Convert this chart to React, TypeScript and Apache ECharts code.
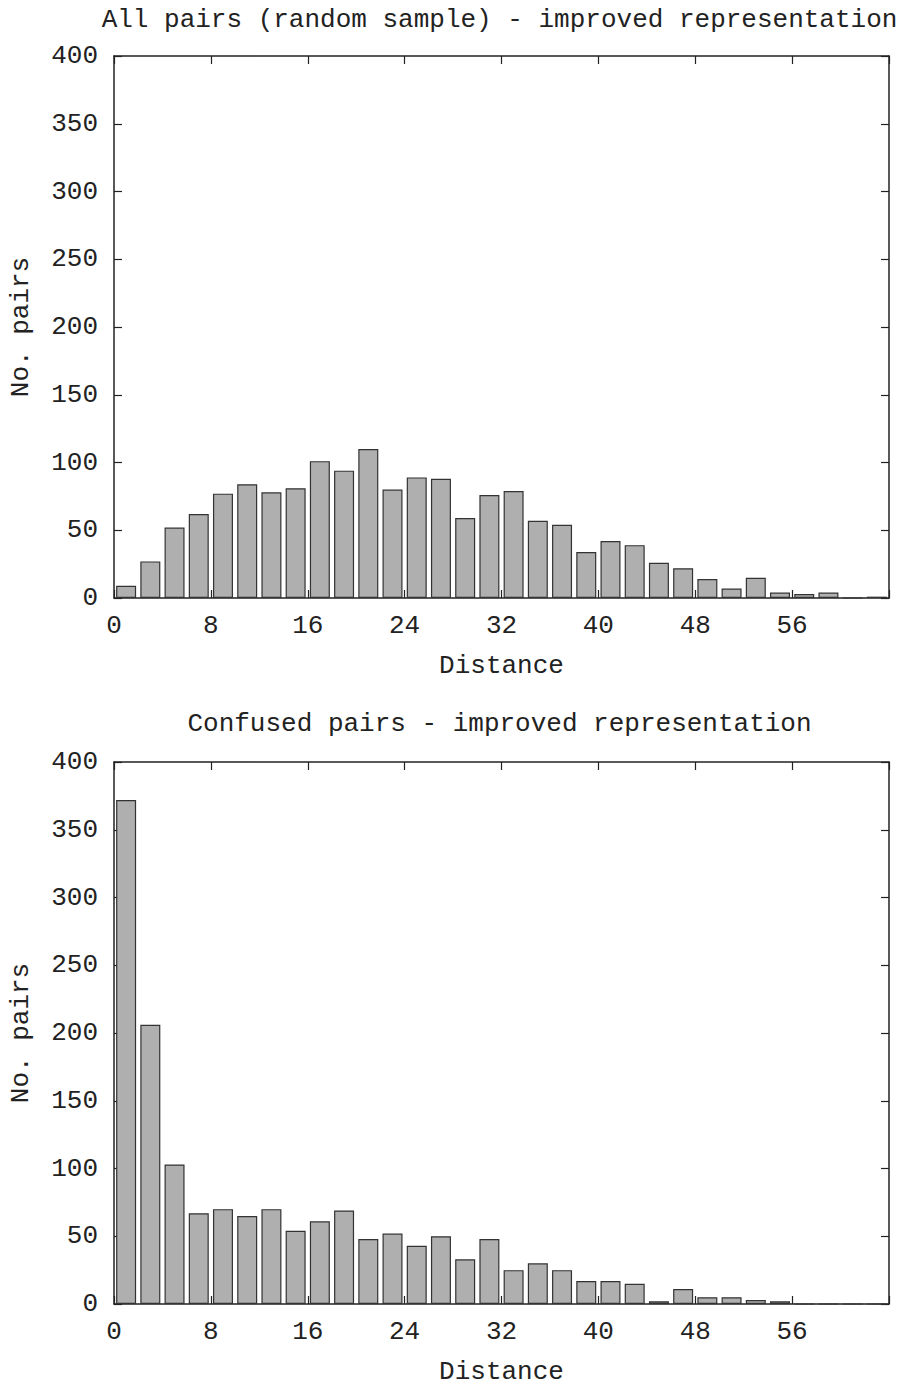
import React, { useEffect, useRef } from "react";
import * as echarts from "echarts";

const distances = [1, 3, 5, 7, 9, 11, 13, 15, 17, 19, 21, 23, 25, 27, 29, 31, 33, 35, 37, 39, 41, 43, 45, 47, 49, 51, 53, 55, 57, 59, 61, 63];
const allPairs = [9, 27, 52, 62, 77, 84, 78, 81, 101, 94, 110, 80, 89, 88, 59, 76, 79, 57, 54, 34, 42, 39, 26, 22, 14, 7, 15, 4, 3, 4, 0, 1];
const confusedPairs = [372, 206, 103, 67, 70, 65, 70, 54, 61, 69, 48, 52, 43, 50, 33, 48, 25, 30, 25, 17, 17, 15, 2, 11, 5, 5, 3, 2, 0, 0, 0, 0];
const xTicks = [0, 8, 16, 24, 32, 40, 48, 56];
const titles = ["All pairs (random sample) - improved representation", "Confused pairs - improved representation"];
const xName = "Distance";
const yName = "No. pairs";

const FONT = "Liberation Mono";
const FS = 26;
const LINE = "#222";

export default function App() {
  const ref = useRef<HTMLDivElement>(null);
  useEffect(() => {
    if (!ref.current) return;
    const chart = echarts.init(ref.current, null, { renderer: "svg" });
    const grids = [
      { left: 110, top: 56, width: 779, height: 542 },
      { left: 110, top: 762, width: 779, height: 542 },
    ];
    const lineCfg = { show: true, onZero: false, lineStyle: { color: LINE, width: 1.5 } };
    const tickCfg = { show: true, inside: true, length: 8, lineStyle: { color: LINE, width: 1.2 } };
    const xAxes: any[] = [];
    const yAxes: any[] = [];
    grids.forEach((_, gi) => {
      xAxes.push({
        type: "value",
        gridIndex: gi,
        min: 0,
        max: 64,
        interval: 8,
        position: "bottom",
        name: xName,
        nameLocation: "middle",
        nameGap: 55,
        nameTextStyle: { fontFamily: FONT, fontSize: FS, color: LINE },
        axisLine: lineCfg,
        axisTick: tickCfg,
        axisLabel: {
          fontFamily: FONT,
          fontSize: FS,
          color: LINE,
          margin: 15,
          formatter: (v: number) => (xTicks.includes(v) ? String(v) : ""),
        },
        splitLine: { show: false },
      });
      xAxes.push({
        type: "value",
        gridIndex: gi,
        min: 0,
        max: 64,
        interval: 8,
        position: "top",
        axisLine: lineCfg,
        axisTick: tickCfg,
        axisLabel: { show: false },
        splitLine: { show: false },
      });
      yAxes.push({
        type: "value",
        gridIndex: gi,
        min: 0,
        max: 400,
        interval: 50,
        position: "left",
        name: yName,
        nameLocation: "middle",
        nameGap: 80,
        nameTextStyle: { fontFamily: FONT, fontSize: FS, color: LINE },
        axisLine: lineCfg,
        axisTick: tickCfg,
        axisLabel: { fontFamily: FONT, fontSize: FS, color: LINE, margin: 16, padding: [5, 0, 0, 0] },
        splitLine: { show: false },
      });
      yAxes.push({
        type: "value",
        gridIndex: gi,
        min: 0,
        max: 400,
        interval: 50,
        position: "right",
        axisLine: lineCfg,
        axisTick: tickCfg,
        axisLabel: { show: false },
        splitLine: { show: false },
      });
    });
    const mkSeries = (vals: number[], gi: number) => ({
      type: "bar",
      xAxisIndex: gi * 2,
      yAxisIndex: gi * 2,
      barWidth: 20,
      data: distances.map((d, i) => [d, vals[i]]),
      itemStyle: { color: "#afafaf", borderColor: "#333", borderWidth: 1.2 },
      z: 1,
    });
    chart.setOption({
      animation: false,
      backgroundColor: "#fff",
      grid: grids,
      xAxis: xAxes,
      yAxis: yAxes,
      series: [mkSeries(allPairs, 0), mkSeries(confusedPairs, 1)],
      graphic: [
        {
          type: "text",
          x: 499.5,
          y: 20,
          style: { text: titles[0], font: `${FS}px "${FONT}"`, fill: LINE, textAlign: "center", textVerticalAlign: "middle" },
        },
        {
          type: "text",
          x: 499.5,
          y: 724,
          style: { text: titles[1], font: `${FS}px "${FONT}"`, fill: LINE, textAlign: "center", textVerticalAlign: "middle" },
        },
      ],
    });
    return () => chart.dispose();
  }, []);
  return <div ref={ref} style={{ position: "absolute", left: 0, top: 0, width: 905, height: 1393 }} />;
}
